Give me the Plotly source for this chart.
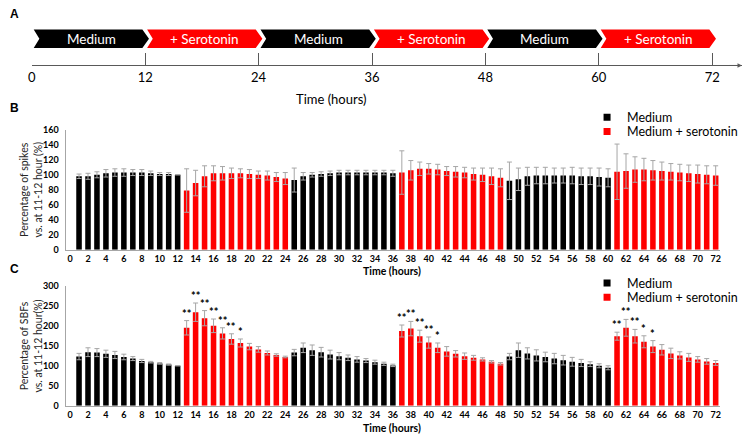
import plotly.graph_objects as go

# ---------------- data ----------------
hours = list(range(1, 73))
phase_bounds = [0, 12, 24, 36, 48, 60, 72]
phase_labels = ["Medium", "+ Serotonin", "Medium", "+ Serotonin", "Medium", "+ Serotonin"]
series_names = ["Medium", "Medium + serotonin"]

spikes_mean = [98, 98, 100, 102, 103, 103, 103, 103, 102, 101, 101, 100,
               79, 89, 98, 102, 102, 102, 102, 101, 100, 99, 97, 95,
               93, 98, 100, 101, 102, 103, 103, 103, 103, 103, 103, 102,
               103, 106, 108, 108, 107, 105, 104, 103, 101, 100, 98, 96,
               92, 94, 98, 99, 99, 99, 99, 99, 98, 98, 97, 96,
               104, 105, 107, 107, 106, 105, 104, 103, 102, 101, 100, 99]
spikes_err = [3, 4, 4, 5, 5, 5, 4, 4, 3, 2, 2, 0,
              29, 17, 14, 10, 9, 7, 6, 6, 5, 6, 6, 8,
              16, 5, 3, 3, 3, 3, 3, 3, 3, 3, 3, 4,
              29, 13, 9, 7, 7, 6, 7, 7, 8, 9, 11, 12,
              25, 15, 12, 11, 11, 10, 10, 11, 11, 11, 12, 12,
              37, 23, 17, 15, 13, 12, 11, 11, 11, 12, 12, 13]

sbf_mean = [123, 134, 133, 130, 127, 122, 118, 112, 109, 106, 103, 100,
            195, 234, 219, 200, 181, 167, 157, 148, 141, 132, 127, 122,
            133, 145, 139, 134, 128, 124, 120, 116, 113, 109, 105, 101,
            187, 193, 174, 158, 145, 136, 130, 124, 120, 116, 110, 105,
            123, 139, 131, 126, 122, 118, 114, 110, 107, 104, 100, 95,
            174, 195, 174, 160, 148, 140, 131, 126, 121, 116, 111, 107]
sbf_err = [8, 11, 10, 9, 9, 7, 5, 4, 2, 2, 1.5, 0,
           18, 23, 19, 17, 14, 13, 10, 8, 7, 5, 3, 2,
           8, 12, 13, 12, 11, 9, 7, 7, 5, 5, 4, 3,
           15, 18, 15, 14, 12, 12, 8, 8, 6, 4, 3, 3,
           8, 18, 14, 14, 12, 13, 12, 11, 9, 6, 5, 5,
           10, 21, 17, 15, 15, 13, 13, 9, 10, 7, 7, 6]
sbf_sig = {13: "**", 14: "**", 15: "**", 16: "**", 17: "**", 18: "**", 19: "*",
           37: "**", 38: "**", 39: "**", 40: "**", 41: "*",
           61: "**", 62: "**", 63: "**", 64: "*", 65: "*"}

x_ticks = list(range(0, 73, 2))

# ---------------- style ----------------
W, H = 744, 440
BLACK, RED = "#000000", "#ff0000"
ERR = "#a6a6a6"
AXIS = "#a6a6a6"
FONT = "Lato"


def px(x):
    return x / W


def py(y):
    return 1 - y / H


def is_sero(h):
    return ((h - 1) // 12) % 2 == 1


fig = go.Figure()

panels = [
    ("x", "y", spikes_mean, spikes_err, ("legend", "legend2")),
    ("x2", "y2", sbf_mean, sbf_err, ("legend3", "legend4")),
]
for xa, ya, means, errs, legs in panels:
    for k, (name, color) in enumerate(zip(series_names, [BLACK, RED])):
        xs = [h for h in hours if is_sero(h) == (k == 1)]
        ys = [means[h - 1] for h in xs]
        es = [errs[h - 1] for h in xs]
        fig.add_trace(go.Bar(
            x=xs, y=ys, name=name, marker_color=color, marker_line_width=0,
            error_y=dict(type="data", array=es, color=ERR, thickness=1, width=2.5),
            xaxis=xa, yaxis=ya, showlegend=False,
        ))
        fig.add_trace(go.Scatter(
            x=[None], y=[None], mode="markers", name=name,
            marker=dict(symbol="square", size=7, color=color),
            xaxis=xa, yaxis=ya, legend=legs[k], showlegend=True,
        ))

# significance stars
for h, s in sbf_sig.items():
    fig.add_annotation(x=h, y=sbf_mean[h - 1] + sbf_err[h - 1], xref="x2", yref="y2",
                       text=s, showarrow=False, xanchor="center", yanchor="bottom", yshift=-1,
                       font=dict(family=FONT, size=11, color="#000", weight="bold"))

# ---------------- panel A (timeline) ----------------
pxh = (713 - 28) / 72.0
a_range = [0, (743 - 28) / pxh]
top, bot, mid = 37, 18, 27.5
for i, lab in enumerate(phase_labels):
    b0, b1 = phase_bounds[i], phase_bounds[i + 1]
    color = RED if "Serotonin" in lab else BLACK
    path = (f"M {b0 + 0.2},{top} L {b1 - 0.3},{top} L {b1 + 0.4},{mid} "
            f"L {b1 - 0.3},{bot} L {b0 + 0.2},{bot} L {b0 + 0.8},{mid} Z")
    fig.add_shape(type="path", path=path, xref="x3", yref="y3",
                  fillcolor=color, line=dict(width=0), layer="above")
    fig.add_annotation(x=(b0 + b1) / 2 + 0.3, y=mid, xref="x3", yref="y3", text=lab,
                       showarrow=False, xanchor="center", yanchor="middle",
                       font=dict(family=FONT, size=13.5, color="#fff"))

fig.add_annotation(x=a_range[1], y=0, ax=a_range[1] - 1.5, ay=0, xref="x3", yref="y3",
                   axref="x3", ayref="y3", text="", showarrow=True, arrowhead=2,
                   arrowsize=0.9, arrowwidth=1, arrowcolor="#595959")


def note(x, y, text, size, weight="normal", color="#000", angle=0, family=FONT,
         xanchor="center"):
    fig.add_annotation(x=px(x), y=py(y), xref="paper", yref="paper", text=text,
                       showarrow=False, xanchor=xanchor, yanchor="middle", textangle=angle,
                       font=dict(family=family, size=size, color=color, weight=weight))


# panel letters and titles
for lab, yy in [("A", 8), ("B", 105), ("C", 270)]:
    note(4, yy, lab, 12, weight="bold", family="Liberation Sans", xanchor="left")

note(330, 95, "Time (hours)", 13)
note(391, 272, "Time (hours)", 10.5, weight="bold")
note(391, 433, "Time (hours)", 10.5, weight="bold")
note(27, (127 + 250) / 2, "Percentage of spikes<br>vs. at 11-12 hour (%)", 10.5,
     color="#262626", angle=-90)
note(27, (287 + 410) / 2, "Percentage of SBFs<br>vs. at 11-12 hour(%)", 10.5,
     color="#262626", angle=-90)

bar_x = dict(range=[-0.5, 72.5], tickvals=x_ticks, ticktext=[str(t) for t in x_ticks],
             tickfont=dict(family=FONT, size=9, color="#000", weight="bold"),
             showline=True, linecolor=AXIS, linewidth=1, ticks="", showgrid=False,
             zeroline=False, domain=[px(62), px(721)], tickangle=0)
bar_y = dict(tickfont=dict(family=FONT, size=9, color="#000", weight="bold"),
             showline=True, linecolor=AXIS, linewidth=1, ticks="", showgrid=False,
             zeroline=False, ticklabelstandoff=4)


def leg(x, y):
    return dict(x=x, y=y, xanchor="left", yanchor="middle", bgcolor="rgba(0,0,0,0)",
                font=dict(family=FONT, size=12.5, color="#000"), itemwidth=30,
                borderwidth=0)


lx = px(627 - 40)
fig.update_layout(
    width=W, height=H, autosize=False,
    margin=dict(l=0, r=0, t=0, b=0),
    paper_bgcolor="#fff", plot_bgcolor="#fff",
    barmode="overlay", bargap=0.38,
    xaxis=dict(bar_x, anchor="y"),
    yaxis=dict(bar_y, anchor="x", range=[0, 160], dtick=20, domain=[py(250), py(127)]),
    xaxis2=dict(bar_x, anchor="y2"),
    yaxis2=dict(bar_y, anchor="x2", range=[0, 300], dtick=50, domain=[py(410), py(287)]),
    xaxis3=dict(anchor="y3", domain=[px(28), px(743)], range=a_range,
                tickvals=phase_bounds, ticktext=[str(b) for b in phase_bounds],
                ticks="inside", ticklen=12, tickcolor="#595959", tickwidth=1,
                showline=True, linecolor="#595959", linewidth=1, showgrid=False,
                zeroline=False, tickfont=dict(family=FONT, size=13, color="#000")),
    yaxis3=dict(anchor="x3", domain=[py(61), py(20)], range=[0, 41], visible=False),
    legend=leg(lx, py(114.5)),
    legend2=leg(lx, py(129)),
    legend3=leg(lx, py(284.5)),
    legend4=leg(lx, py(299)),
)

fig.write_html("out.html", config={"displayModeBar": False},
               post_script="document.body.style.margin='0';")
